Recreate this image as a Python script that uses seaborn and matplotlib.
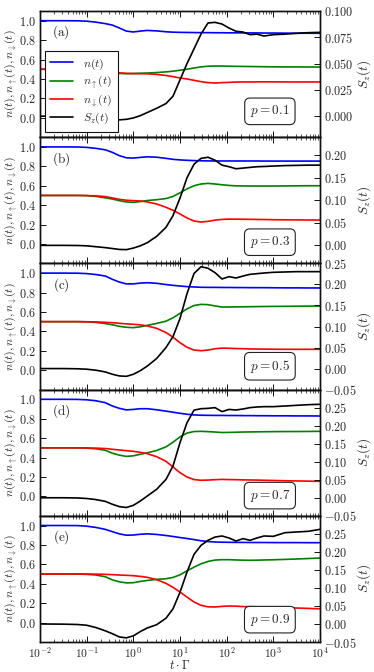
import numpy as np
import pandas as pd
import matplotlib
matplotlib.use("Agg")
import matplotlib.pyplot as plt
import seaborn as sns
from matplotlib.ticker import FixedLocator, FuncFormatter, LogLocator, NullFormatter

# ---------------- data ----------------
log_t = [-2, -1.5, -1.2, -1.0, -0.8, -0.6, -0.45, -0.3, -0.15, 0, 0.15, 0.3, 0.5, 0.7,
         0.85, 1.0, 1.15, 1.3, 1.45, 1.6, 1.75, 1.9, 2.05, 2.2, 2.35, 2.5, 2.65, 2.8,
         3.0, 3.25, 3.5, 3.75, 4.0]

panel_labels = ["(a)", "(b)", "(c)", "(d)", "(e)"]
p_values = ["0.1", "0.3", "0.5", "0.7", "0.9"]
series_labels = [r"$n(t)$", r"$n_{\uparrow}(t)$", r"$n_{\downarrow}(t)$", r"$S_z(t)$"]

n_a = [1.0, 1.0, 0.999, 0.995, 0.985, 0.97, 0.955, 0.925, 0.893, 0.884, 0.893, 0.900, 0.895, 0.886, 0.882, 0.880, 0.879, 0.878, 0.877, 0.877, 0.876, 0.876, 0.875, 0.875, 0.875, 0.874, 0.874, 0.873, 0.873, 0.872, 0.871, 0.871, 0.870]
up_a = [0.5, 0.5, 0.5, 0.498, 0.49, 0.475, 0.465, 0.457, 0.454, 0.456, 0.459, 0.461, 0.466, 0.473, 0.48, 0.49, 0.50, 0.513, 0.524, 0.531, 0.533, 0.533, 0.531, 0.530, 0.529, 0.528, 0.527, 0.526, 0.525, 0.524, 0.524, 0.523, 0.523]
dn_a = [0.5, 0.5, 0.5, 0.499, 0.492, 0.478, 0.468, 0.462, 0.458, 0.455, 0.454, 0.453, 0.447, 0.436, 0.424, 0.41, 0.40, 0.386, 0.372, 0.362, 0.358, 0.362, 0.365, 0.368, 0.369, 0.369, 0.37, 0.37, 0.37, 0.369, 0.369, 0.369, 0.369]
sz_a = [0, 0, -0.0003, -0.001, -0.002, -0.003, -0.0035, -0.0035, -0.003, -0.0017, 0.0005, 0.0035, 0.0075, 0.012, 0.019, 0.0345, 0.05, 0.064, 0.078, 0.0886, 0.0892, 0.0876, 0.0838, 0.0807, 0.080, 0.0775, 0.078, 0.0762, 0.0775, 0.078, 0.0788, 0.0794, 0.0797]

n_b = [1.0, 1.0, 0.999, 0.995, 0.985, 0.97, 0.944, 0.91, 0.888, 0.885, 0.892, 0.898, 0.894, 0.882, 0.872, 0.866, 0.862, 0.859, 0.857, 0.856, 0.855, 0.855, 0.855, 0.855, 0.855, 0.855, 0.855, 0.854, 0.854, 0.854, 0.854, 0.854, 0.854]
up_b = [0.5, 0.5, 0.5, 0.498, 0.49, 0.475, 0.463, 0.446, 0.433, 0.429, 0.437, 0.448, 0.456, 0.468, 0.49, 0.527, 0.568, 0.60, 0.618, 0.624, 0.618, 0.61, 0.603, 0.599, 0.598, 0.597, 0.597, 0.597, 0.597, 0.598, 0.599, 0.60, 0.60]
dn_b = [0.5, 0.5, 0.5, 0.499, 0.496, 0.488, 0.474, 0.46, 0.451, 0.446, 0.443, 0.433, 0.412, 0.378, 0.347, 0.309, 0.268, 0.237, 0.226, 0.233, 0.246, 0.253, 0.256, 0.256, 0.255, 0.254, 0.253, 0.252, 0.25, 0.249, 0.248, 0.247, 0.247]
sz_b = [0, 0, -0.0003, -0.001, -0.003, -0.005, -0.007, -0.009, -0.0095, -0.006, -0.001, 0.006, 0.02, 0.04, 0.066, 0.105, 0.15, 0.18, 0.193, 0.1955, 0.189, 0.178, 0.1745, 0.170, 0.1715, 0.173, 0.1745, 0.175, 0.176, 0.177, 0.1775, 0.178, 0.178]

n_c = [1.0, 1.0, 0.999, 0.995, 0.985, 0.97, 0.936, 0.908, 0.889, 0.889, 0.897, 0.901, 0.895, 0.882, 0.874, 0.867, 0.861, 0.857, 0.854, 0.853, 0.853, 0.852, 0.852, 0.851, 0.851, 0.85, 0.85, 0.85, 0.849, 0.848, 0.848, 0.847, 0.847]
up_c = [0.5, 0.5, 0.5, 0.498, 0.492, 0.48, 0.468, 0.452, 0.442, 0.438, 0.447, 0.462, 0.482, 0.505, 0.54, 0.585, 0.632, 0.666, 0.678, 0.675, 0.662, 0.65, 0.651, 0.652, 0.653, 0.654, 0.655, 0.656, 0.657, 0.658, 0.659, 0.66, 0.661]
dn_c = [0.5, 0.5, 0.5, 0.499, 0.497, 0.493, 0.489, 0.483, 0.477, 0.473, 0.467, 0.456, 0.431, 0.388, 0.34, 0.283, 0.236, 0.208, 0.201, 0.207, 0.221, 0.227, 0.226, 0.223, 0.221, 0.219, 0.218, 0.217, 0.216, 0.215, 0.215, 0.215, 0.215]
sz_c = [0, 0, -0.0005, -0.0015, -0.004, -0.008, -0.0135, -0.0175, -0.0185, -0.0136, -0.005, 0.006, 0.024, 0.05, 0.076, 0.119, 0.178, 0.226, 0.242, 0.2385, 0.228, 0.213, 0.2185, 0.2153, 0.22, 0.224, 0.2256, 0.2272, 0.2288, 0.2296, 0.2304, 0.2304, 0.2304]

n_d = [1.0, 1.0, 0.999, 0.995, 0.985, 0.965, 0.931, 0.907, 0.891, 0.896, 0.903, 0.903, 0.892, 0.878, 0.867, 0.856, 0.846, 0.839, 0.836, 0.835, 0.834, 0.834, 0.833, 0.833, 0.832, 0.832, 0.831, 0.831, 0.830, 0.83, 0.829, 0.829, 0.828]
up_d = [0.5, 0.5, 0.5, 0.497, 0.49, 0.475, 0.445, 0.425, 0.412, 0.418, 0.434, 0.449, 0.473, 0.51, 0.558, 0.613, 0.652, 0.668, 0.67, 0.667, 0.663, 0.658, 0.659, 0.661, 0.663, 0.664, 0.665, 0.666, 0.667, 0.668, 0.668, 0.669, 0.67]
dn_d = [0.5, 0.5, 0.5, 0.499, 0.497, 0.493, 0.485, 0.478, 0.471, 0.464, 0.454, 0.44, 0.409, 0.361, 0.303, 0.244, 0.20, 0.173, 0.166, 0.168, 0.172, 0.175, 0.173, 0.172, 0.17, 0.169, 0.168, 0.166, 0.164, 0.161, 0.159, 0.157, 0.155]
sz_d = [0, 0, -0.0005, -0.002, -0.005, -0.01, -0.018, -0.0245, -0.027, -0.021, -0.009, 0.005, 0.0235, 0.051, 0.088, 0.153, 0.208, 0.243, 0.247, 0.248, 0.250, 0.239, 0.245, 0.2434, 0.2462, 0.25, 0.2518, 0.2527, 0.2527, 0.2545, 0.2564, 0.2582, 0.2592]

n_e = [1.0, 1.0, 0.999, 0.993, 0.98, 0.96, 0.937, 0.914, 0.9, 0.902, 0.91, 0.914, 0.908, 0.897, 0.887, 0.876, 0.866, 0.855, 0.843, 0.835, 0.83, 0.828, 0.827, 0.826, 0.826, 0.825, 0.825, 0.825, 0.824, 0.824, 0.824, 0.823, 0.823]
up_e = [0.5, 0.5, 0.5, 0.497, 0.49, 0.472, 0.44, 0.42, 0.409, 0.411, 0.424, 0.434, 0.445, 0.452, 0.465, 0.492, 0.533, 0.571, 0.605, 0.63, 0.644, 0.648, 0.648, 0.645, 0.643, 0.642, 0.643, 0.645, 0.647, 0.651, 0.655, 0.66, 0.665]
dn_e = [0.5, 0.5, 0.5, 0.5, 0.499, 0.497, 0.494, 0.49, 0.487, 0.483, 0.476, 0.466, 0.442, 0.404, 0.363, 0.315, 0.263, 0.212, 0.178, 0.162, 0.161, 0.167, 0.171, 0.169, 0.165, 0.164, 0.162, 0.16, 0.157, 0.154, 0.15, 0.146, 0.142]
sz_e = [0, -0.0005, -0.0015, -0.0035, -0.01, -0.019, -0.027, -0.036, -0.0385, -0.033, -0.021, -0.011, -0.002, 0.016, 0.042, 0.088, 0.144, 0.193, 0.218, 0.232, 0.241, 0.244, 0.2385, 0.230, 0.2366, 0.232, 0.2385, 0.244, 0.243, 0.2532, 0.2551, 0.257, 0.2625]

n_ticks = [0.0, 0.2, 0.4, 0.6, 0.8, 1.0]
sz_ticks = [
    [0.0, 0.025, 0.05, 0.075, 0.1],
    [0.0, 0.05, 0.1, 0.15, 0.2],
    [-0.05, 0.0, 0.05, 0.1, 0.15, 0.2, 0.25],
    [-0.05, 0.0, 0.05, 0.1, 0.15, 0.2, 0.25],
    [-0.05, 0.0, 0.05, 0.1, 0.15, 0.2, 0.25],
]
x_ticks = [1e-2, 1e-1, 1e0, 1e1, 1e2, 1e3, 1e4]

# ---------------- layout / style ----------------
sz_lims = [(-0.02, 0.10), (-0.04, 0.24), (-0.05, 0.25), (-0.05, 0.30), (-0.05, 0.30)]
sz_fmt = [3, 2, 2, 2, 2]
pbox_y = [0.205, 0.168, 0.185, 0.16, 0.177]
colors = ["#0000ff", "#008000", "#ff0000", "#000000"]
text_col = "#262626"

sns.set_theme(style="ticks")
plt.rcParams.update({
    "font.family": ["DejaVu Serif"],
    "mathtext.fontset": "cm",
    "xtick.direction": "in",
    "ytick.direction": "in",
    "axes.edgecolor": "#111111",
    "axes.linewidth": 1.0,
    "text.color": text_col,
    "xtick.color": "#111111",
    "ytick.color": "#111111",
    "xtick.labelcolor": text_col,
    "ytick.labelcolor": text_col,
    "axes.labelcolor": text_col,
})

t = np.power(10.0, np.array(log_t))
panels = [
    (n_a, up_a, dn_a, sz_a),
    (n_b, up_b, dn_b, sz_b),
    (n_c, up_c, dn_c, sz_c),
    (n_d, up_d, dn_d, sz_d),
    (n_e, up_e, dn_e, sz_e),
]

fig, axes = plt.subplots(5, 1, sharex=True, figsize=(3.74, 6.72), dpi=100)
fig.subplots_adjust(left=40 / 374, right=320 / 374, top=1 - 11 / 672, bottom=1 - 642 / 672, hspace=0)

tick_fs = 8.8
for i, ax in enumerate(axes):
    ntot, nup, ndn, sz = panels[i]
    ax2 = ax.twinx()
    for vals, c, lab in zip((ntot, nup, ndn), colors[:3], series_labels[:3]):
        df = pd.DataFrame({"t": t, "v": vals})
        sns.lineplot(data=df, x="t", y="v", ax=ax, color=c, lw=1.2, label=lab, legend=False)
    df = pd.DataFrame({"t": t, "v": sz})
    sns.lineplot(data=df, x="t", y="v", ax=ax2, color=colors[3], lw=1.2, label=series_labels[3], legend=False)

    ax.set_xscale("log")
    ax.set_xlim(1e-2, 1e4)
    ax.set_ylim(-0.2, 1.1)
    ax2.set_ylim(*sz_lims[i])
    ax.yaxis.set_major_locator(FixedLocator(n_ticks))
    ax.yaxis.set_major_formatter(FuncFormatter(lambda v, pos: r"$%.1f$" % v))
    ax2.yaxis.set_major_locator(FixedLocator(sz_ticks[i]))
    d = sz_fmt[i]
    ax2.yaxis.set_major_formatter(FuncFormatter(lambda v, pos, d=d: (r"$%." + str(d) + "f$") % v))
    ax.xaxis.set_major_locator(FixedLocator(x_ticks))
    ax.xaxis.set_minor_locator(LogLocator(base=10, subs=np.arange(2, 10), numticks=20))
    ax.xaxis.set_minor_formatter(NullFormatter())
    ax.xaxis.set_major_formatter(FuncFormatter(lambda v, pos: r"$10^{%d}$" % int(round(np.log10(v)))))

    ax.tick_params(axis="x", which="major", length=4, width=0.7, top=True, bottom=True, labelsize=8.4, pad=2.5)
    ax.tick_params(axis="x", which="minor", length=2, width=0.5, top=True, bottom=True)
    ax.tick_params(axis="y", which="major", length=4, width=0.7, left=True, right=False, labelsize=tick_fs, pad=3)
    ax2.tick_params(axis="y", which="major", length=4, width=0.7, right=True, left=False, labelsize=tick_fs, pad=3)

    ax.set_xlabel("")
    ax.set_ylabel(r"$n(t), n_{\uparrow}(t), n_{\downarrow}(t)$", fontsize=8.5)
    ax.yaxis.set_label_coords(-0.071, 0.5)
    ax2.set_ylabel(r"$S_z(t)$", fontsize=9.5)
    ax2.yaxis.set_label_coords(1.125, 0.5)

    ax.text(0.075, 0.83, r"$\mathrm{%s}$" % panel_labels[i], transform=ax.transAxes,
            ha="center", va="center", fontsize=9.5, color=text_col)
    ax.text(0.821, pbox_y[i], r"$p = %s$" % p_values[i], transform=ax.transAxes,
            ha="center", va="center", fontsize=9.5, color=text_col,
            bbox=dict(boxstyle="round,pad=0.4", fc="white", ec="#222222", lw=0.8))

    if i == 0:
        handles = ax.get_lines()[:3] + ax2.get_lines()[:1]
        leg = ax2.legend(handles, series_labels, loc="lower left", bbox_to_anchor=(0.018, 0.045),
                         fontsize=8.5, frameon=True, fancybox=False, framealpha=1,
                         edgecolor="#111111", handlelength=1.9, handletextpad=0.9,
                         labelspacing=0.18, borderpad=0.45, borderaxespad=0)
        leg.get_frame().set_linewidth(0.8)
        for txt in leg.get_texts():
            txt.set_color(text_col)
    if i < 4:
        ax.tick_params(axis="x", which="both", labelbottom=False)

axes[-1].set_xlabel("")
fig.text(180 / 374, 1 - 665.5 / 672, r"$t\cdot\Gamma$", ha="center", va="center",
         fontsize=9, color=text_col)

fig.savefig("out.png", dpi=100)
